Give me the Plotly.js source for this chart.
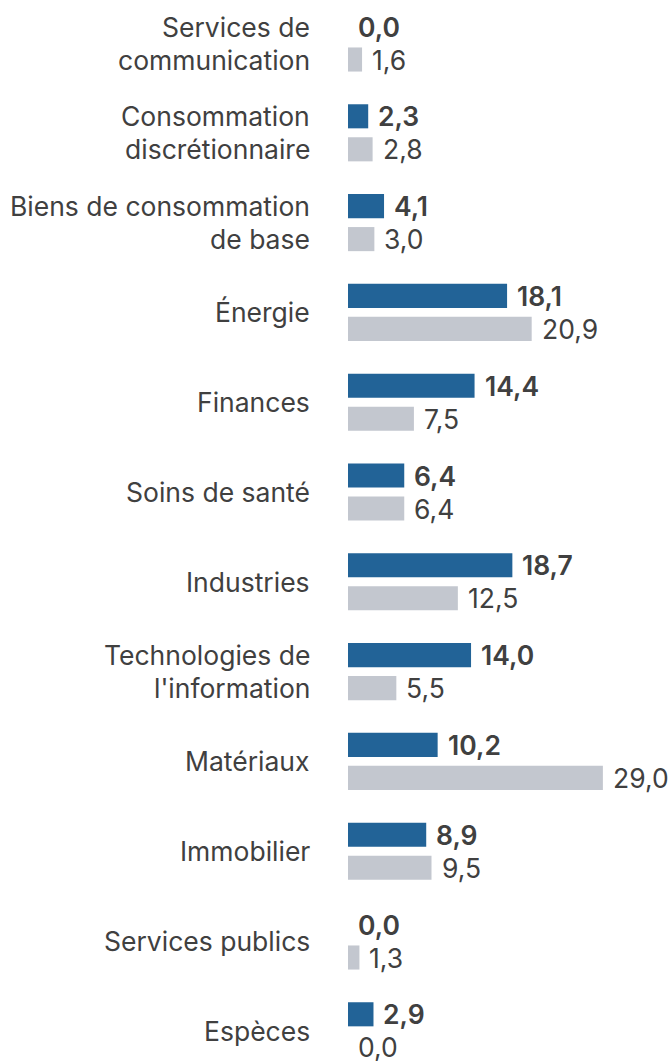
<!DOCTYPE html>
<html>
<head>
<meta charset="utf-8">
<script src="https://cdn.plot.ly/plotly-3.0.1.min.js"></script>
<style>html,body{margin:0;padding:0;background:#fff;}#chart{width:671px;height:1061px;}</style>
</head>
<body>
<div id="chart"></div>
<script>
const categories = [
  "Services de<br>communication",
  "Consommation<br>discrétionnaire",
  "Biens de consommation<br>de base",
  "Énergie",
  "Finances",
  "Soins de santé",
  "Industries",
  "Technologies de<br>l'information",
  "Matériaux",
  "Immobilier",
  "Services publics",
  "Espèces"
];
const seriesBlue = [0.0, 2.3, 4.1, 18.1, 14.4, 6.4, 18.7, 14.0, 10.2, 8.9, 0.0, 2.9];
const seriesGray = [1.6, 2.8, 3.0, 20.9, 7.5, 6.4, 12.5, 5.5, 29.0, 9.5, 1.3, 0.0];

const BLUE = '#226397';
const GRAY = '#c3c7cf';
const TXT = '#404040';
const FONT = 'Inter, "Noto Sans", sans-serif';
const FS = 26.5;

const fmt = v => v.toFixed(1).replace('.', ',');

const traces = [
  {type: 'bar', orientation: 'h', y: categories, x: seriesBlue, name: 'A',
   marker: {color: BLUE, line: {width: 0}}, hoverinfo: 'skip'},
  {type: 'bar', orientation: 'h', y: categories, x: seriesGray, name: 'B',
   marker: {color: GRAY, line: {width: 0}}, hoverinfo: 'skip'}
];

const annotations = [];
const OFF = 16.5;
categories.forEach((c, i) => {
  annotations.push({x: seriesBlue[i], y: c, xref: 'x', yref: 'y', text: fmt(seriesBlue[i]),
    showarrow: false, xanchor: 'left', yanchor: 'middle', xshift: 8, yshift: OFF,
    font: {family: FONT, size: FS, color: TXT, weight: 600}});
  annotations.push({x: seriesGray[i], y: c, xref: 'x', yref: 'y', text: fmt(seriesGray[i]),
    showarrow: false, xanchor: 'left', yanchor: 'middle', xshift: 8, yshift: -OFF,
    font: {family: FONT, size: FS, color: TXT}});
  const lines = c.split('<br>');
  lines.forEach((ln, k) => {
    let ys = 0;
    if (lines.length === 2) ys = k === 0 ? OFF : -OFF;
    annotations.push({x: 0, y: c, xref: 'paper', yref: 'y', text: ln,
      showarrow: false, xanchor: 'right', yanchor: 'middle', xshift: -36, yshift: ys,
      font: {family: FONT, size: FS, color: TXT}});
  });
});

const pxPerCat = 89.8;
const topPad = 43 / pxPerCat;
const bgap = 1 - 66 / pxPerCat;
const layout = {
  width: 671, height: 1061,
  margin: {l: 348, r: 0, t: 0, b: 0, pad: 0},
  paper_bgcolor: '#ffffff', plot_bgcolor: '#ffffff',
  barmode: 'group', bargap: bgap, bargroupgap: 0.27,
  showlegend: false,
  xaxis: {range: [0, 36.75], showgrid: false, zeroline: false, showticklabels: false, showline: false, fixedrange: true},
  yaxis: {type: 'category', categoryorder: 'array', categoryarray: categories,
          range: [-topPad + 1061 / pxPerCat, -topPad], showgrid: false, zeroline: false,
          showticklabels: false, showline: false, ticks: '', fixedrange: true},
  annotations: annotations,
  font: {family: FONT, color: TXT}
};

Plotly.newPlot('chart', traces, layout, {displayModeBar: false, staticPlot: true});
</script>
</body>
</html>
